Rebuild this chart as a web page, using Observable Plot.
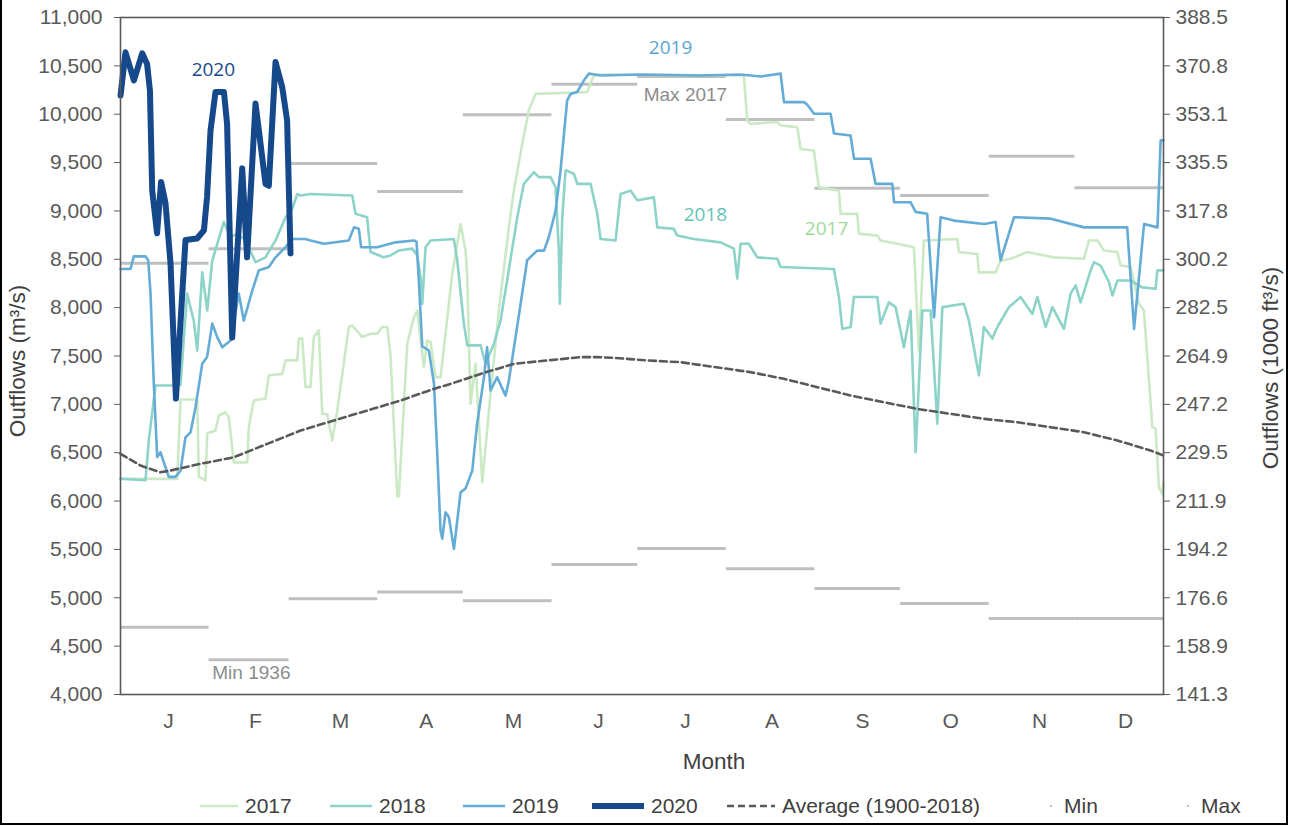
<!DOCTYPE html>
<html><head><meta charset="utf-8">
<script src="https://cdn.jsdelivr.net/npm/d3@7"></script>
<script src="https://cdn.jsdelivr.net/npm/@observablehq/plot@0.6"></script>
<style>
html,body{margin:0;padding:0;background:#fff;}
#wrap{position:relative;width:1289px;height:826px;overflow:hidden;font-family:"Liberation Sans",Arial,sans-serif;}
#border{position:absolute;left:0;top:-6px;width:1288px;height:831px;border:2px solid #000;box-sizing:border-box;pointer-events:none;}
#chart{position:absolute;left:0;top:0;}
#legend{position:absolute;left:0;top:790px;width:1289px;height:32px;}
</style></head>
<body><div id="wrap"><div id="chart"></div><svg id="legend" width="1289" height="32"></svg><div id="border"></div></div>
<script>
// ---- data (day of year, outflow m3/s) ----
const monthLabels = ["J","F","M","A","M","J","J","A","S","O","N","D"];
const monthTickDays = [16.8,47.2,77,107,137.5,167.3,197.7,228,259.7,290.5,321.6,351.7];
const monthStarts = [0,31,59,90,120,151,181,212,243,273,304,334,365];
const leftTicks = [4000,4500,5000,5500,6000,6500,7000,7500,8000,8500,9000,9500,10000,10500,11000];
const rightTickLabels = ["141.3","158.9","176.6","194.2","211.9","229.5","247.2","264.9","282.5","300.2","317.8","335.5","353.1","370.8","388.5"];
const monthlyMax = [8460,8610,9490,9200,9995,10310,10390,9945,9235,9160,9565,9240];
const monthlyMin = [4695,4360,4990,5060,4970,5345,5510,5300,5095,4940,4785,4785];

const s2017 = [[0,6230],[19.85,6230],[21,7050],[26.85,7050],[27.4,6250],[29.75,6215],[30.35,6700],[33.25,6730],[34.4,6885],[36.75,6920],[37.9,6865],[39.65,6400],[44.35,6400],[44.9,6765],[46.65,7040],[50.75,7060],[51.9,7300],[56.6,7315],[57.75,7455],[61.85,7455],[62.4,7680],[63.6,7680],[64.75,7180],[66.5,7180],[67.65,7695],[69.4,7765],[70.6,6900],[72.35,6900],[74.1,6625],[75.85,6935],[79.9,7800],[81.1,7815],[84.6,7695],[87.5,7730],[89.85,7730],[91.6,7800],[93.35,7800],[94.5,7500],[96.85,6050],[97.4,6050],[100.35,7625],[102.65,7900],[103.85,7970],[106.15,7385],[107.35,7660],[108.5,7645],[110.25,7280],[112,7280],[116.1,8350],[119,8865],[120.75,8590],[121.35,8315],[122.5,7005],[124.25,7420],[126.6,6195],[129.5,7110],[132.4,7970],[135.9,8830],[137.65,9210],[140.6,9695],[142.9,10040],[145.25,10210],[163.35,10230],[165.1,10365],[166.25,10410],[218.15,10400],[219.35,9935],[220.5,9900],[229.85,9920],[231,9885],[236.85,9865],[238,9640],[242.65,9625],[243.25,9490],[244.4,9245],[251.4,9210],[252,8970],[257.85,8970],[258.4,8765],[264.85,8745],[266,8695],[271.85,8660],[277.65,8625],[279.4,7555],[281.15,8695],[292.85,8710],[293.4,8575],[299.85,8555],[300.4,8365],[306.25,8365],[308,8485],[311.5,8505],[317.35,8575],[326.65,8520],[337.15,8505],[338.9,8695],[341.85,8695],[344.15,8590],[348.85,8575],[350,8435],[353.5,8420],[356.4,8040],[358.15,7970],[361.1,6765],[362.25,6750],[363.4,6145],[364.6,6075],[365,6180]];

const s2018 = [[0,6230],[8.75,6215],[9.9,6625],[12.25,7195],[17.5,7195],[21,7200],[23.3,8145],[25.65,7865],[26.85,7555],[28.6,8365],[30.35,7970],[32.1,8485],[36.15,8885],[38.5,8730],[40.85,8765],[43.75,8695],[47.25,8470],[50.75,8520],[54.25,8695],[57.75,8935],[60.1,9020],[61.85,9175],[63,9160],[66.5,9175],[81.1,9160],[82.25,8970],[86.3,8935],[87.5,8575],[92.15,8520],[94.5,8540],[97.4,8590],[102.1,8610],[103.85,8540],[105,8315],[105.6,8040],[106.75,8625],[108.5,8695],[116.65,8710],[117.85,8490],[120.15,7835],[121.35,7610],[126,7610],[127.75,7420],[130.65,7625],[133,7865],[135.3,8280],[138.85,8935],[141.15,9280],[144.65,9400],[146.4,9350],[150.5,9350],[152.25,9245],[153.4,8590],[153.75,8040],[154.6,8935],[155.75,9420],[158.65,9385],[159.85,9280],[164.5,9280],[166.85,8970],[168,8710],[173.25,8695],[175,9175],[178.5,9210],[180.85,9110],[186.65,9140],[187.85,8830],[193.65,8815],[194.85,8745],[200.65,8710],[210,8675],[214.65,8610],[215.85,8300],[217,8660],[219.9,8660],[222.85,8520],[229.85,8505],[231,8420],[249.65,8400],[251.4,8110],[252.6,7780],[255.5,7800],[256.65,8110],[264.85,8110],[266,7835],[268.9,8055],[271.25,8005],[274.15,7590],[276.5,7970],[278.25,6505],[280.6,7970],[283.5,7970],[285.85,6800],[287.6,8005],[295.15,8040],[296.9,7865],[300.4,7300],[302.15,7800],[305.1,7680],[306.85,7800],[310.9,8005],[315,8110],[319.1,7935],[320.85,8110],[323.75,7800],[326.1,8005],[330.15,7780],[332.5,8145],[334.25,8230],[336,8055],[339.5,8385],[340.65,8470],[343,8435],[345.9,8265],[347.1,8125],[348.85,8280],[353.5,8280],[357.6,8210],[362.25,8195],[362.85,8385],[365,8385]];

const s2019 = [[0,8400],[3.5,8400],[4.65,8530],[8.75,8530],[9.7,8490],[10.5,8150],[11.65,7215],[12.85,6455],[14,6505],[15.75,6350],[16.9,6250],[19.25,6250],[21,6315],[22.75,6660],[24.5,6710],[26.25,6970],[28.6,7420],[30.3,7490],[32.1,7835],[33.85,7695],[35.6,7590],[38.5,7660],[41.4,8145],[43.15,7865],[46.1,8175],[48.4,8385],[51.9,8420],[54.25,8520],[57.75,8625],[60.1,8710],[64.75,8710],[66.5,8695],[71.2,8660],[79.9,8695],[81.7,8830],[83.4,8815],[84.2,8625],[89.8,8625],[96.25,8675],[102.7,8695],[103.6,8680],[104.4,8280],[105.6,7600],[107.9,7557],[109.7,7215],[110.8,6520],[112,5695],[112.6,5610],[113.75,5885],[114.9,5835],[116.7,5505],[119,6090],[120.75,6130],[123.1,6315],[124.8,6800],[127.2,7280],[128.3,7590],[129.5,7145],[131.8,7280],[134.75,7090],[135.9,7245],[138.8,7800],[142.3,8490],[145.8,8590],[148.2,8590],[149.9,8730],[152.25,9000],[154,9420],[156.3,10140],[157.5,10210],[159.8,10230],[162.2,10350],[163.9,10420],[168,10400],[182,10410],[203,10400],[217,10410],[224,10390],[231,10420],[232.2,10125],[239.2,10125],[240.3,10100],[242.7,10005],[248.5,10005],[249.7,9800],[255.5,9780],[256.7,9540],[262.5,9540],[264.25,9280],[270.1,9280],[270.7,9090],[276.5,9090],[278.25,8990],[282.3,8970],[284.7,7900],[287,8935],[291.7,8900],[302.2,8865],[306.25,8885],[308,8490],[312.7,8935],[325.5,8920],[337.2,8830],[352.3,8830],[354.7,7780],[358.2,8865],[362.9,8830],[364,9730],[365,9730]];

const s2020 = [[0,10193],[1.75,10640],[4.7,10350],[7.6,10630],[9.3,10520],[10.3,10245],[11.1,9210],[12.8,8770],[14.2,9300],[15.75,9080],[17.5,8460],[19.4,7060],[22.75,8700],[26.8,8715],[29.2,8800],[30.3,9150],[31.5,9830],[33.25,10230],[36.2,10230],[37.3,9900],[39.1,7690],[42.6,9440],[44.3,8520],[47.25,10110],[50.75,9280],[51.9,9260],[54.25,10540],[56.6,10280],[58.3,9935],[59.5,8560]];

const avg = [[0,6488],[7,6367],[14,6298],[17.5,6316],[28,6385],[39.65,6453],[51.35,6591],[63,6729],[74.65,6833],[86.35,6936],[98,7040],[109.65,7160],[115.5,7212],[126,7315],[137.65,7419],[149.35,7454],[161,7488],[166.85,7488],[172.65,7481],[184.35,7454],[196,7436],[220.5,7333],[232.15,7264],[243.85,7178],[255.5,7091],[267.15,7022],[278.85,6953],[290.5,6902],[302.15,6850],[313.85,6815],[325.5,6764],[337.15,6712],[348.85,6626],[360.5,6523],[365,6471]];

const annotations = [
  {text:"2020", day:32.5, value:10462, color:"#16498b", font:'"Open Sans", sans-serif'},
  {text:"2019", day:192.5, value:10690, color:"#5aa5d3", font:'"Open Sans", sans-serif'},
  {text:"2018", day:204.7, value:8963, color:"#62c3b7", font:'"Open Sans", sans-serif'},
  {text:"2017", day:247.1, value:8818, color:"#9fd99a", font:'"Open Sans", sans-serif'},
  {text:"Max 2017", day:197.7, value:10204, color:"#8c8c8c", font:'"Liberation Sans", Arial, sans-serif'},
  {text:"Min 1936", day:45.8, value:4227, color:"#8c8c8c", font:'"Liberation Sans", Arial, sans-serif'}
];

// ---- build ----
const C = {c2017:"#cbe9c5", c2018:"#8dd3c9", c2019:"#64acd6", c2020:"#16498b", avg:"#595959", mm:"#bfbfbf"};
const maxRows = monthlyMax.map((v,i)=>({v, start:monthStarts[i], end:monthStarts[i+1]}));
const minRows = monthlyMin.map((v,i)=>({v, start:monthStarts[i], end:monthStarts[i+1]}));
const rightMap = new Map(leftTicks.map((t,i)=>[t,rightTickLabels[i]]));
const monthMap = new Map(monthTickDays.map((t,i)=>[t,monthLabels[i]]));
const px = d=>d[0], py = d=>d[1];

const chart = Plot.plot({
  width:1289, height:780,
  marginLeft:120, marginRight:126, marginTop:17, marginBottom:86,
  style:{fontFamily:'"Liberation Sans", Arial, sans-serif', fontSize:"21px", color:"#595959", background:"transparent", overflow:"visible"},
  x:{domain:[0,365]},
  y:{domain:[4000,11000]},
  marks:[
    Plot.ruleY(maxRows,{y:"v",x1:"start",x2:"end",stroke:C.mm,strokeWidth:3}),
    Plot.ruleY(minRows,{y:"v",x1:"start",x2:"end",stroke:C.mm,strokeWidth:3}),
    Plot.line(s2017,{x:px,y:py,stroke:C.c2017,strokeWidth:2.6}),
    Plot.line(s2018,{x:px,y:py,stroke:C.c2018,strokeWidth:2.6}),
    Plot.line(s2019,{x:px,y:py,stroke:C.c2019,strokeWidth:2.6}),
    Plot.line(s2020,{x:px,y:py,stroke:C.c2020,strokeWidth:6}),
    Plot.line(avg,{x:px,y:py,stroke:C.avg,strokeWidth:2.6,strokeDasharray:"7,4"}),
    Plot.frame({stroke:"#595959",strokeWidth:1.6}),
    Plot.axisY(leftTicks,{anchor:"left",tickFormat:d3.format(","),tickSize:6,tickPadding:12,label:null}),
    Plot.axisY(leftTicks,{anchor:"right",tickFormat:d=>rightMap.get(d),tickSize:6,tickPadding:6,label:null}),
    Plot.axisX(monthTickDays,{tickFormat:d=>monthMap.get(d),tickSize:0,tickPadding:19,label:null}),
    Plot.text(["Outflows (m³/s)"],{text:d=>d,frameAnchor:"left",textAnchor:"middle",rotate:-90,dx:-103,dy:5,fill:"#404040",fontSize:22.5}),
    Plot.text(["Outflows (1000 ft³/s)"],{text:d=>d,frameAnchor:"right",textAnchor:"middle",rotate:-90,dx:107,dy:12,fill:"#404040",fontSize:22.5}),
    Plot.text(["Month"],{text:d=>d,frameAnchor:"bottom",dx:72,dy:74,fill:"#404040",fontSize:22.5}),
    Plot.text(annotations,{x:"day",y:"value",text:"text",fill:"color",fontSize:19})
  ]
});
document.getElementById("chart").appendChild(chart);
// per-annotation font families
chart.querySelectorAll("g[aria-label='text'] text").forEach(t=>{
  const a = annotations.find(a=>a.text===t.textContent);
  if (a) t.setAttribute("font-family", a.font);
});
chart.querySelectorAll("path").forEach(p=>{ if (p.getAttribute("stroke")===C.c2020) p.setAttribute("stroke-linejoin","round"); });

// ---- legend ----
const items = [
  {label:"2017", color:C.c2017, w:2.6, x:200, len:38},
  {label:"2018", color:C.c2018, w:2.6, x:330, len:42},
  {label:"2019", color:C.c2019, w:2.6, x:463, len:42},
  {label:"2020", color:C.c2020, w:6, x:592, len:52},
  {label:"Average (1900-2018)", color:C.avg, w:2.6, x:727, len:48, dash:"7,4"},
  {label:"Min", color:C.mm, w:2, x:1050, len:2},
  {label:"Max", color:C.mm, w:2, x:1187, len:2}
];
const lg = d3.select("#legend");
items.forEach(it=>{
  lg.append("line").attr("x1",it.x).attr("x2",it.x+it.len).attr("y1",16).attr("y2",16)
    .attr("stroke",it.color).attr("stroke-width",it.w).attr("stroke-dasharray",it.dash||null);
  lg.append("text").attr("x",it.x+it.len+(it.len<5?12:7)).attr("y",16).attr("dy","0.35em")
    .attr("font-family",'"Liberation Sans", Arial, sans-serif').attr("font-size",21).attr("fill","#404040").text(it.label);
});
</script></body></html>
